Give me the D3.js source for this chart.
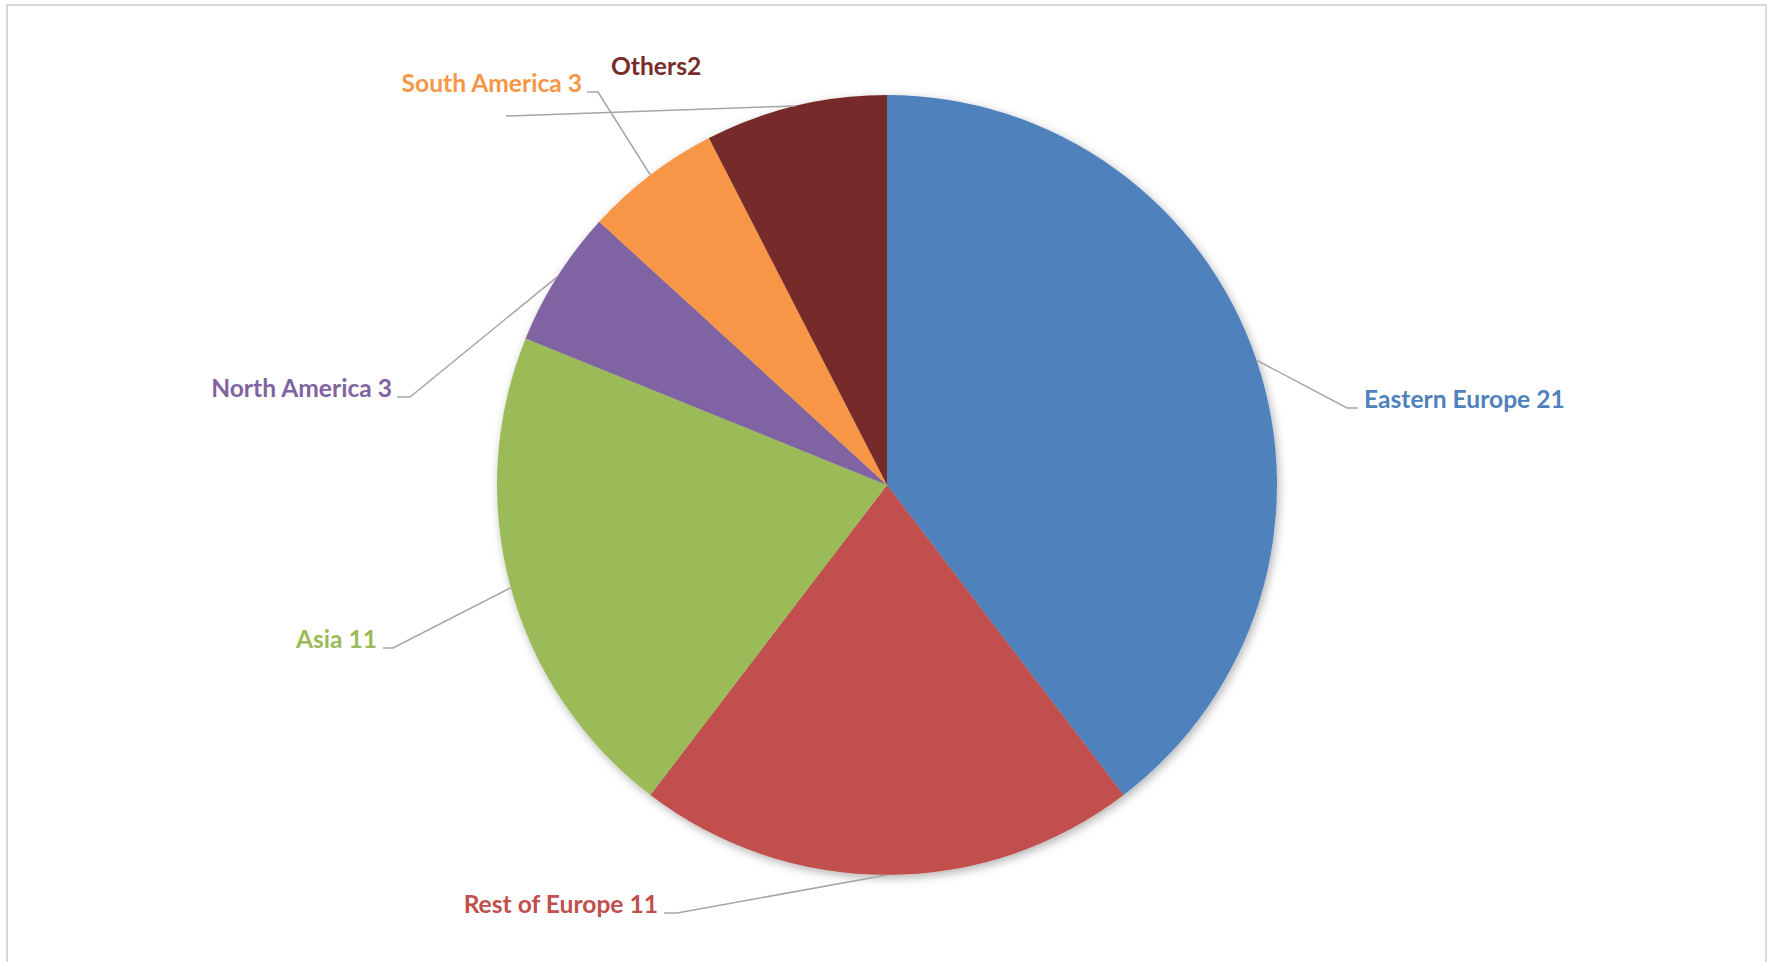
<!DOCTYPE html>
<html>
<head>
<meta charset="utf-8">
<script src="https://cdn.jsdelivr.net/npm/d3@7"></script>
<style>
  body { margin: 0; background: #fff; }
  svg text { font-family: Lato, "Open Sans", sans-serif; font-weight: 700; }
</style>
</head>
<body>
<div id="chart"></div>
<script>
// slice data
const categories = ["Eastern Europe 21", "Rest of Europe 11", "Asia 11", "North America 3", "South America 3", "Others2"];
const values = [21, 11, 11, 3, 3, 4];
const colors = ["#4F81BD", "#C0504D", "#9BBB59", "#8064A2", "#F79646", "#772C2A"];

// label layout, relative to pie centre: leader elbow, leader end, text point, text anchor
const labelLayout = [
    { elbow: [460, -77], end: [471, -77], text: [477, -77], anchor: "start" },
    { elbow: [-210, 428], end: [-223, 428], text: [-229, 428], anchor: "end" },
    { elbow: [-494, 163], end: [-504, 163], text: [-510, 163], anchor: "end" },
    { elbow: [-477, -88], end: [-490, -88], text: [-495, -88], anchor: "end" },
    { elbow: [-289, -393], end: [-300, -393], text: [-305, -393], anchor: "end" },
    { elbow: [-381, -369], end: [-381, -369], text: [-276, -410], anchor: "start" }
];

const width = 1767, height = 962;
const cx = 887, cy = 485, radius = 390;

const svg = d3.select("#chart")
    .append("svg")
    .attr("width", width)
    .attr("height", height);

// chart area border
svg.append("rect")
    .attr("x", 7)
    .attr("y", 5)
    .attr("width", 1759)
    .attr("height", 1000)
    .attr("fill", "#fff")
    .attr("stroke", "#D9D9D9")
    .attr("stroke-width", 2);

const defs = svg.append("defs");
defs.append("filter")
    .attr("id", "shadow")
    .attr("x", "-10%").attr("y", "-10%")
    .attr("width", "120%").attr("height", "120%")
    .append("feDropShadow")
    .attr("dx", 2)
    .attr("dy", 3)
    .attr("stdDeviation", 5)
    .attr("flood-color", "#000")
    .attr("flood-opacity", 0.3);

const g = svg.append("g").attr("transform", `translate(${cx},${cy})`);

const pie = d3.pie().sort(null).value(d => d);
const arcs = pie(values);

const arc = d3.arc().innerRadius(0).outerRadius(radius);
// used to find where the leader line meets the rim
const rimArc = d3.arc().innerRadius(radius).outerRadius(radius);

g.append("g")
    .attr("filter", "url(#shadow)")
    .selectAll("path")
    .data(arcs)
    .join("path")
    .attr("d", arc)
    .attr("fill", (d, i) => colors[i]);

// leader lines
g.selectAll(".leader")
    .data(arcs)
    .join("polyline")
    .attr("class", "leader")
    .attr("fill", "none")
    .attr("stroke", "#A6A6A6")
    .attr("stroke-width", 1.5)
    .attr("points", (d, i) => {
        const rim = rimArc.centroid(d);
        const L = labelLayout[i];
        return [rim, L.elbow, L.end].map(p => p.join(",")).join(" ");
    });

// labels
g.selectAll(".label")
    .data(arcs)
    .join("text")
    .attr("class", "label")
    .attr("x", (d, i) => labelLayout[i].text[0])
    .attr("y", (d, i) => labelLayout[i].text[1])
    .attr("text-anchor", (d, i) => labelLayout[i].anchor)
    .attr("fill", (d, i) => colors[i])
    .style("font-size", "24.6px")
    .text((d, i) => categories[i]);
</script>
</body>
</html>
